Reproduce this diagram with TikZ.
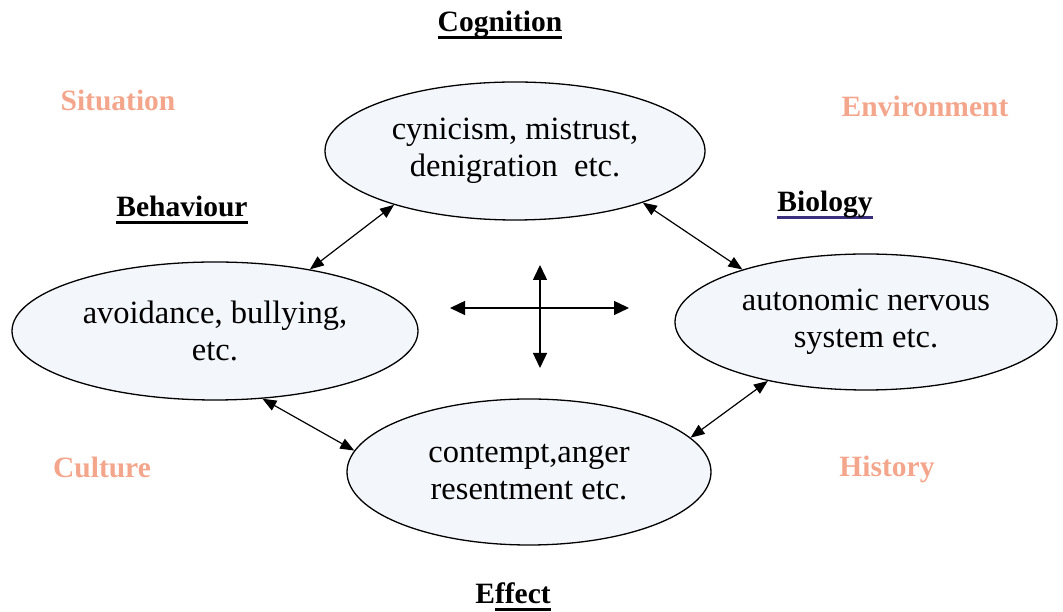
\documentclass[tikz,border=0pt]{standalone}
\usepackage{xcolor}
\usepackage{fontspec}
\setmainfont{Liberation Serif}
\usepackage{tikz}
\usetikzlibrary{positioning,shapes.geometric,arrows.meta}
\definecolor{salmon}{HTML}{F4A68C}
\definecolor{ovalfill}{HTML}{F3F7FB}
\definecolor{bioline}{HTML}{3A2F7D}
\newcommand{\ulhead}[2][black]{\sbox0{#2}\rlap{\color{#1}\rule[-7pt]{\wd0}{2.6pt}}\usebox0}
\tikzset{
  oval/.style={draw, ellipse, line width=1.3pt, fill=ovalfill, inner sep=0pt, align=center, font=\fontsize{32.5}{37.5}\selectfont},
  heading/.style={anchor=base, inner sep=0pt, font=\fontsize{29.5}{34}\selectfont\bfseries},
  factor/.style={heading, text=salmon},
  link/.style={{Triangle[length=14pt,width=11pt]}-{Triangle[length=14pt,width=11pt]}, line width=1.2pt},
  crossarrow/.style={{Triangle[length=15pt,width=14pt]}-{Triangle[length=15pt,width=14pt]}, line width=1.4pt}
}

\begin{document}
\begin{tikzpicture}[x=1pt, y=1pt]
  \useasboundingbox (0,0) rectangle (1063,612);

  \node[oval, minimum width=380pt, minimum height=138pt] (cognit) at (515,461) {cynicism, mistrust,\\denigration\ \ etc.};
  \node[oval, minimum width=406pt, minimum height=138pt] (behav) at (215,281) {avoidance, bullying,\\etc.};
  \node[oval, minimum width=382pt, minimum height=136pt] (biol) at (866,290) {autonomic nervous\\system etc.};
  \node[oval, minimum width=364pt, minimum height=146pt] (affect) at (529,140) {contempt,anger\\resentment etc.};

  \node[heading] (cognitLabel) at (500,580) {\ulhead{Cognition}};
  \node[heading] (behavLabel) at (182,395) {\ulhead{Behaviour}};
  \node[heading] (biolLabel) at (825,400) {\ulhead[bioline]{Biology}};
  \node[heading] (affectLabel) at (513,8) {E\ulhead{ffect}};

  \node[factor] (situation) at (118,501) {Situation};
  \node[factor] (environment) at (925,495) {Environment};
  \node[factor] (culture) at (102,134) {Culture};
  \node[factor] (history) at (887,135) {History};

  \draw[link] (behav.33) -- (cognit.204.5);
  \draw[link] (cognit.338.6) -- (biol.157);
  \draw[link] (behav.305) -- (affect.173);
  \draw[link] (affect.12) -- (biol.211);

  \coordinate (hubW) at (450,304);
  \coordinate (hubE) at (629,304);
  \coordinate (hubN) at (540,347);
  \coordinate (hubS) at (540,244);
  \draw[crossarrow] (hubW) -- (hubE);
  \draw[crossarrow] (hubN) -- (hubS);
\end{tikzpicture}
\end{document}
